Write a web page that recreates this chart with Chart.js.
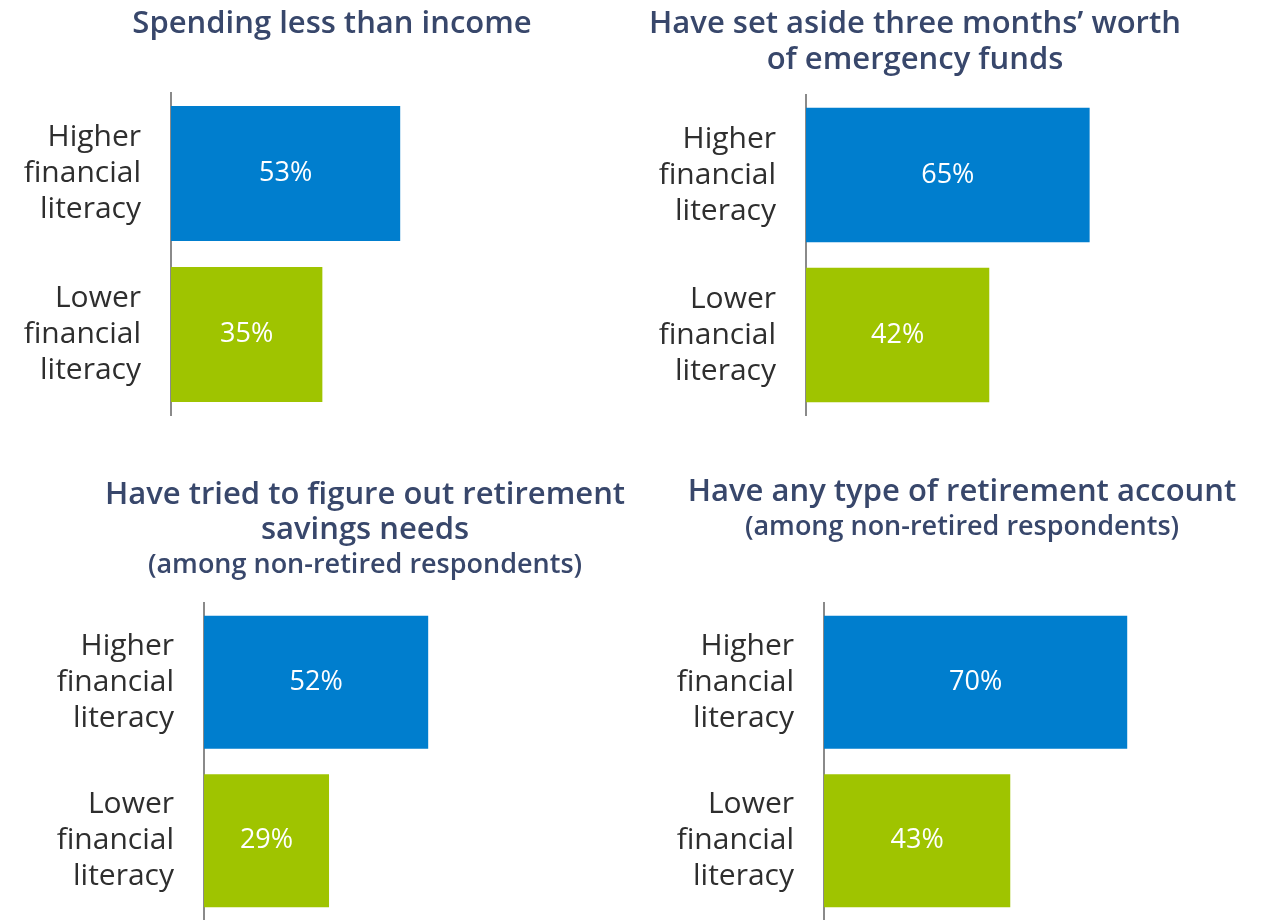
<!DOCTYPE html>
<html>
<head>
<meta charset="utf-8">
<script src="https://cdn.jsdelivr.net/npm/chart.js@4/dist/chart.umd.min.js"></script>
<style>
  body { margin: 0; background: #fff; }
  canvas { position: absolute; }
</style>
</head>
<body>
<canvas id="c1" width="664" height="460" style="left:0;top:0"></canvas>
<canvas id="c2" width="550" height="460" style="left:640px;top:0"></canvas>
<canvas id="c3" width="730" height="460" style="left:0;top:460px"></canvas>
<canvas id="c4" width="612" height="460" style="left:656px;top:460px"></canvas>
<script>
// data
const categories = [['Higher', 'financial', 'literacy'], ['Lower', 'financial', 'literacy']];
const spendingLess = [53, 35];
const emergencyFunds = [65, 42];
const retirementNeeds = [52, 29];
const retirementAccount = [70, 43];
const titleSpending = ['Spending less than income'];
const titleEmergency = ['Have set aside three months\u2019 worth', 'of emergency funds'];
const titleNeeds = ['Have tried to figure out retirement', 'savings needs'];
const titleAccount = ['Have any type of retirement account'];
const subtitleNonRetired = '(among non-retired respondents)';

const barColors = ['#007ECE', '#9FC400'];
const titleColor = '#38476B';

// white percentage inside each bar
const valueLabels = {
    id: 'valueLabels',
    afterDatasetsDraw(chart) {
        const ctx = chart.ctx;
        const meta = chart.getDatasetMeta(0);
        ctx.save();
        ctx.fillStyle = '#fff';
        ctx.font = '27px "Open Sans"';
        ctx.textAlign = 'center';
        ctx.textBaseline = 'middle';
        meta.data.forEach((bar, i) => {
            const v = chart.data.datasets[0].data[i];
            ctx.fillText(v + '%', (bar.x + bar.base) / 2, bar.y);
        });
        ctx.restore();
    }
};

function makeChart(id, values, title, subtitle, opts) {
    return new Chart(document.getElementById(id), {
        type: 'bar',
        data: {
            labels: categories,
            datasets: [{
                data: values,
                backgroundColor: barColors,
                barPercentage: 0.84,
                categoryPercentage: 1
            }]
        },
        options: {
            indexAxis: 'y',
            responsive: false,
            animation: false,
            layout: { padding: { bottom: opts.padBottom || 0 } },
            plugins: {
                legend: { display: false },
                tooltip: { enabled: false },
                title: {
                    display: true,
                    text: title,
                    color: titleColor,
                    font: { family: 'Open Sans', size: 31, weight: '600', lineHeight: opts.titleLH },
                    padding: opts.titlePad
                },
                subtitle: {
                    display: !!subtitle,
                    text: subtitle || '',
                    color: titleColor,
                    font: { family: 'Open Sans', size: 27, weight: '600', lineHeight: 35 / 27 },
                    padding: opts.subPad || 0
                }
            },
            scales: {
                x: { display: false, min: 0, max: opts.max },
                y: {
                    grid: { display: false, drawTicks: false },
                    border: { display: true, color: '#8a8a8a', width: 2 },
                    ticks: {
                        color: '#2e2e2e',
                        padding: 30,
                        font: { family: 'Open Sans', size: 30, lineHeight: 1.2 }
                    },
                    afterFit(scale) {
                        // fixed axis column, labels need no extra room above/below
                        scale.width = opts.axisW;
                        scale.paddingTop = 0;
                        scale.paddingBottom = 0;
                    }
                }
            }
        },
        plugins: [valueLabels]
    });
}

makeChart('c1', spendingLess, titleSpending, null,
    { max: 114, axisW: 171, padBottom: 45, titleLH: 36 / 31, titlePad: { top: 6, bottom: 51 } });
makeChart('c2', emergencyFunds, titleEmergency, null,
    { max: 88, axisW: 166, padBottom: 45, titleLH: 36 / 31, titlePad: { top: 6, bottom: 17 } });
makeChart('c3', retirementNeeds, titleNeeds, subtitleNonRetired,
    { max: 122, axisW: 204, titleLH: 35 / 31, titlePad: { top: 17.5, bottom: 0 }, subPad: { top: 0, bottom: 20.5 } });
makeChart('c4', retirementAccount, titleAccount, subtitleNonRetired,
    { max: 102.5, axisW: 168, titleLH: 35 / 31, titlePad: { top: 14.5, bottom: 0 }, subPad: { top: 0, bottom: 58.5 } });
</script>
</body>
</html>
